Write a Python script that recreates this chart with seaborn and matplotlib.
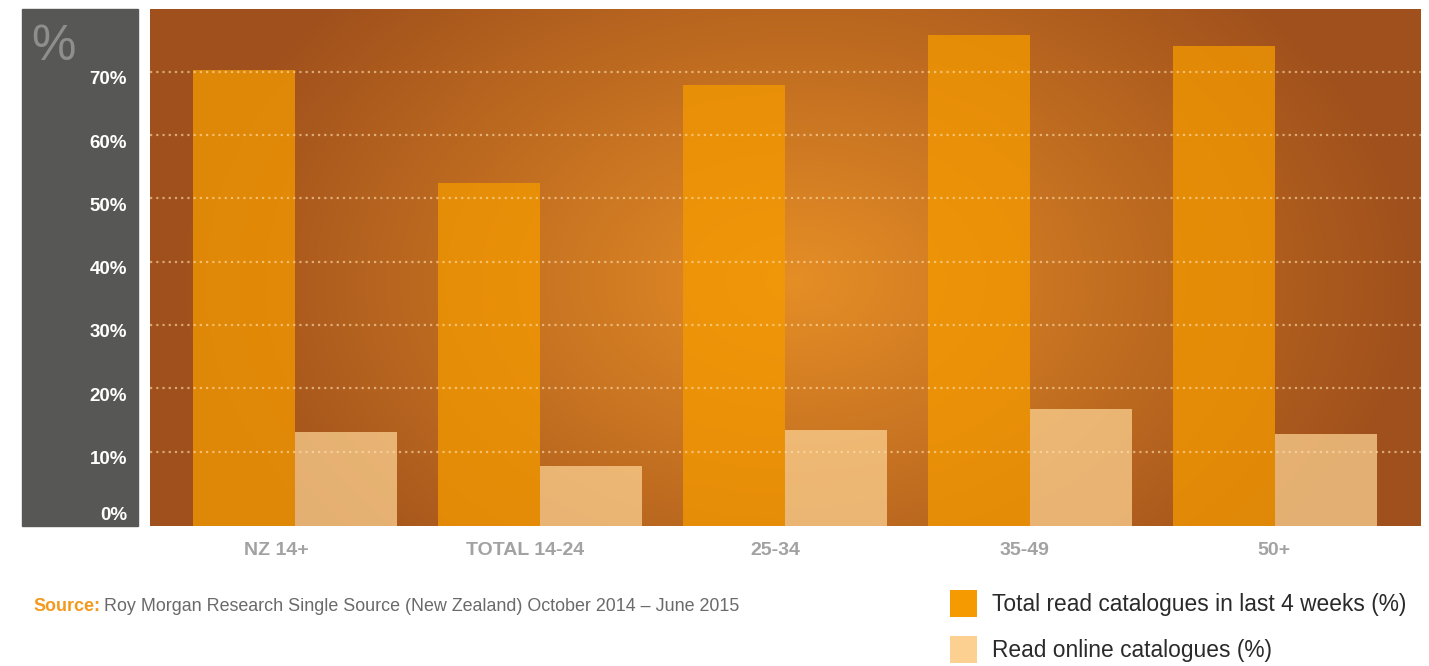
import numpy as np
import pandas as pd
import seaborn as sns
import matplotlib.pyplot as plt
import matplotlib.transforms as mtransforms
from matplotlib.patches import Rectangle, Patch

# =========================
# 1. Data
# =========================
groups = ["NZ 14+", "TOTAL 14-24", "25-34", "35-49", "50+"]
total_read = [70.2, 52.4, 67.9, 75.8, 74.1]
online_read = [13.1, 7.7, 13.4, 16.7, 12.8]
series_names = ["Total read catalogues in last 4 weeks (%)", "Read online catalogues (%)"]
y_ticks = [0, 10, 20, 30, 40, 50, 60, 70]
y_tick_labels = ["0%", "10%", "20%", "30%", "40%", "50%", "60%", "70%"]

df = pd.DataFrame({
    "group": groups * 2,
    "value": total_read + online_read,
    "series": [series_names[0]] * len(groups) + [series_names[1]] * len(groups),
})

# =========================
# 2. Style
# =========================
sns.set_style("white")
plt.rcParams["font.family"] = ["Liberation Sans", "DejaVu Sans"]

W, H = 1429, 666
fig = plt.figure(figsize=(W / 100, H / 100), dpi=100)
ax = fig.add_axes([150 / W, 1 - 525.7 / H, (1421 - 150) / W, (525.7 - 9) / H])

bar_colors = ["#F59A00", "#FBD090"]
edge_bg = np.array([160, 80, 28]) / 255
center_bg = np.array([229, 142, 38]) / 255

# =========================
# 3. Bars
# =========================
sns.barplot(data=df, x="group", y="value", hue="series", order=groups,
            hue_order=series_names, palette=bar_colors, saturation=1,
            width=0.833, gap=0, alpha=0.75, linewidth=0, legend=False, ax=ax, zorder=2)

xlim = (-0.592, 4.596)
ylim = (-1.7, 79.9)
ax.set_xlim(xlim)
ax.set_ylim(ylim)

# bars run down to the bottom edge of the plot area
for p in ax.patches:
    h = p.get_height()
    p.set_y(ylim[0])
    p.set_height(h - ylim[0])

# radial gradient background
nx, ny = 1271, 517
xx, yy = np.meshgrid(np.arange(nx), np.arange(ny))
r = np.sqrt(((xx - 645) / 620) ** 2 + ((yy - 272) / 420) ** 2)
t = np.clip(r, 0, 1)[..., None]
img = center_bg * (1 - t) + edge_bg * t
ax.imshow(img, extent=(xlim[0], xlim[1], ylim[0], ylim[1]), origin="upper",
          aspect="auto", zorder=0)

# dotted grid on top of bars
for v in y_ticks[1:]:
    ax.axhline(v, color="#FFE2B0", alpha=0.6, lw=1.6,
               linestyle=(0, (1, 1.8)), zorder=3)

# =========================
# 4. Axes & labels
# =========================
for s in ax.spines.values():
    s.set_visible(False)
ax.set_xlabel("")
ax.set_ylabel("")
ax.set_yticks(y_ticks)
ax.set_yticklabels(y_tick_labels, fontsize=13.5, fontweight="bold", color="white")
ax.tick_params(axis="y", length=0, pad=16.5)
ax.tick_params(axis="x", length=0, pad=12)
ax.set_xticks(range(len(groups)))
ax.set_xticklabels(groups, fontsize=14, fontweight="bold", color="#A2A2A2")

for lab in ax.get_yticklabels():
    dy = 1.5 if lab.get_text() == "0%" else -6
    lab.set_transform(lab.get_transform() +
                      mtransforms.ScaledTranslation(0, dy / 100, fig.dpi_scale_trans))

# category labels sit a little left of their bars
x_label_shift = [-19, -14.5, -9.7, -5.2, -1.5]
for lab, dx in zip(ax.get_xticklabels(), x_label_shift):
    lab.set_transform(lab.get_transform() +
                      mtransforms.ScaledTranslation(dx / 100, 0, fig.dpi_scale_trans))

# grey side panel
fig.add_artist(Rectangle((22 / W, 1 - 525.7 / H), 116 / W, 516.7 / H,
                         transform=fig.transFigure, color="#575756", zorder=-1))
ax.set_zorder(1)
fig.text(31 / W, 1 - 60 / H, "%", fontsize=36, color="#8E8E8D", va="baseline")

# =========================
# 5. Source + legend
# =========================
src = fig.text(33 / W, 1 - 611 / H, "Source:", fontsize=12.9, fontweight="bold",
               color="#F39A1E", va="baseline")
ax.annotate("Roy Morgan Research Single Source (New Zealand) October 2014 \u2013 June 2015",
            xy=(1, 0), xycoords=src, xytext=(3, 0), textcoords="offset points",
            fontsize=12.9, color="#6A6A6A", va="bottom", annotation_clip=False)

handles = [Patch(facecolor=c, edgecolor="none") for c in bar_colors]
fig.legend(handles, series_names, loc="upper left",
           bbox_to_anchor=(950 / W, 1 - 590 / H), frameon=False,
           fontsize=16.4, handlelength=1.18, handleheight=1.445,
           handletextpad=0.66, labelspacing=0.85, borderpad=0, borderaxespad=0,
           labelcolor="#2A2A2A")

plt.savefig("out.png", dpi=100)
